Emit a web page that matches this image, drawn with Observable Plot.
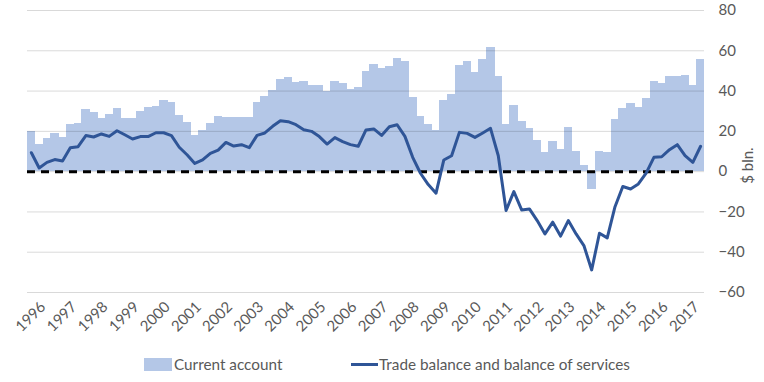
<!DOCTYPE html>
<html>
<head>
<meta charset="utf-8">
<script src="https://cdn.jsdelivr.net/npm/d3@7"></script>
<script src="https://cdn.jsdelivr.net/npm/@observablehq/plot@0.6"></script>
<style>
  body { margin: 0; background: #fff; font-family: Lato, "Open Sans", sans-serif; }
  #wrap { position: relative; width: 764px; height: 382px; }
  #legend { position: absolute; left: 0; top: 345px; width: 764px; height: 37px; font-size: 15.3px; color: #595959; }
  .sw { position: absolute; }
  .lt { position: absolute; top: 11px; line-height: 17px; }
</style>
</head>
<body>
<div id="wrap">
  <div id="chart"></div>
  <div id="legend">
    <div class="sw" style="left:144px; top:13px; width:28px; height:13px; background:#b4c7e7;"></div>
    <div class="lt" style="left:174px;">Current account</div>
    <div class="sw" style="left:351px; top:18px; width:27px; height:3px; background:#2f5597;"></div>
    <div class="lt" style="left:379px;">Trade balance and balance of services</div>
  </div>
</div>
<script>
const years = [1996,1997,1998,1999,2000,2001,2002,2003,2004,2005,2006,2007,2008,2009,2010,2011,2012,2013,2014,2015,2016,2017];
const yTicks = [-60,-40,-20,0,20,40,60,80];
const currentAccount = [
  20, 13.4, 16.5, 18.8, 17, 23.3, 23.8, 30.7, 29.3, 26.3, 28.3, 31.2, 26.3, 26.3, 29.8,
  31.6, 32.2, 35.2, 34.2, 27.8, 24.3, 17.9, 20.3, 23.8, 27.3, 27.1, 26.8, 26.8, 26.8, 34.2,
  37.2, 40.5, 45.6, 46.6, 44.3, 44.6, 42.6, 42.6, 40, 44.6, 43.6, 40.7, 41.7, 49.6, 53,
  51, 52, 56, 54.5, 36.7, 27.3, 23.3, 20.3, 35.2, 38.2, 52.6, 54.5, 49.3, 55.5, 61.5,
  47.1, 23.3, 32.7, 24.8, 21.3, 15.4, 9.4, 14.9, 10.9, 21.8, 9.9, 3, -8.8, 9.9, 9.4,
  25.8, 31.2, 33.7, 31.7, 36.2, 44.6, 43.6, 47.1, 47.1, 47.6, 42.6, 55.5
];
const tradeBalance = [
  9.4, 1.8, 4.6, 6, 5.3, 11.9, 12.4, 17.9, 17.2, 18.7, 17.5, 20.3, 18.3, 16.2, 17.4,
  17.4, 19.3, 19.3, 17.9, 12.1, 8.4, 4.1, 5.8, 9.1, 10.7, 14.5, 12.7, 13.4, 11.9, 18,
  19.2, 22.5, 25.3, 24.8, 23.3, 20.8, 20, 17.4, 13.7, 16.9, 14.9, 13.4, 12.6, 20.7, 21.2,
  18, 22.3, 23.3, 17.5, 7.1, -0.8, -6.4, -10.7, 5.8, 7.9, 19.5, 19, 17, 19.2, 21.5,
  7.9, -19.3, -9.9, -19, -18.5, -24.3, -30.9, -25.1, -32, -24.3, -30.9, -36.7, -48.8, -30.6, -32.9,
  -17.4, -7.4, -8.6, -6.1, -0.7, 7.1, 7.4, 10.9, 13.4, 7.9, 4.6, 12.6
];

const n = currentAccount.length;
const bars = currentAccount.map((v, i) => ({i, v}));
const line = tradeBalance.map((v, i) => ({i: i + 0.5, v}));
const yearTicks = years.map((y, k) => k * 4 + 2);

const chart = Plot.plot({
  width: 764,
  height: 345,
  marginLeft: 27,
  marginRight: 60,
  marginTop: 10,
  marginBottom: 53,
  style: {fontFamily: "Lato, 'Open Sans', sans-serif", fontSize: "15px", color: "#595959", background: "#fff"},
  x: {domain: [0, n], axis: null, label: null},
  y: {domain: [-60, 80], axis: null, label: null},
  marks: [
    Plot.rect(bars, {x1: "i", x2: d => Math.min(n, d.i + 1.08), y1: 0, y2: "v", fill: "#b4c7e7", inset: 0, shapeRendering: "crispEdges"}),
    Plot.gridY(yTicks, {stroke: "#000", strokeOpacity: 0.15, strokeWidth: 1}),
    Plot.ruleY([0], {x1: 0, x2: n - 0.8, stroke: "#000", strokeWidth: 3, strokeDasharray: "8,6"}),
    Plot.line(line, {x: "i", y: "v", stroke: "#2f5597", strokeWidth: 3, strokeLinejoin: "round"}),
    Plot.axisY(yTicks, {anchor: "right", label: null, tickSize: 0, tickPadding: 14, textAnchor: "start", fill: "#595959", fontSize: 15}),
    Plot.axisX(yearTicks, {anchor: "bottom", label: null, tickSize: 0, tickPadding: 12, tickRotate: -45, fill: "#595959", fontSize: 15, tickFormat: d => String(years[(d - 2) / 4])}),
    Plot.text(["$ bln."], {x: n, y: 3, dx: 44, rotate: -90, fill: "#595959", fontSize: 15, textAnchor: "middle"})
  ]
});
document.getElementById("chart").appendChild(chart);
</script>
</body>
</html>
